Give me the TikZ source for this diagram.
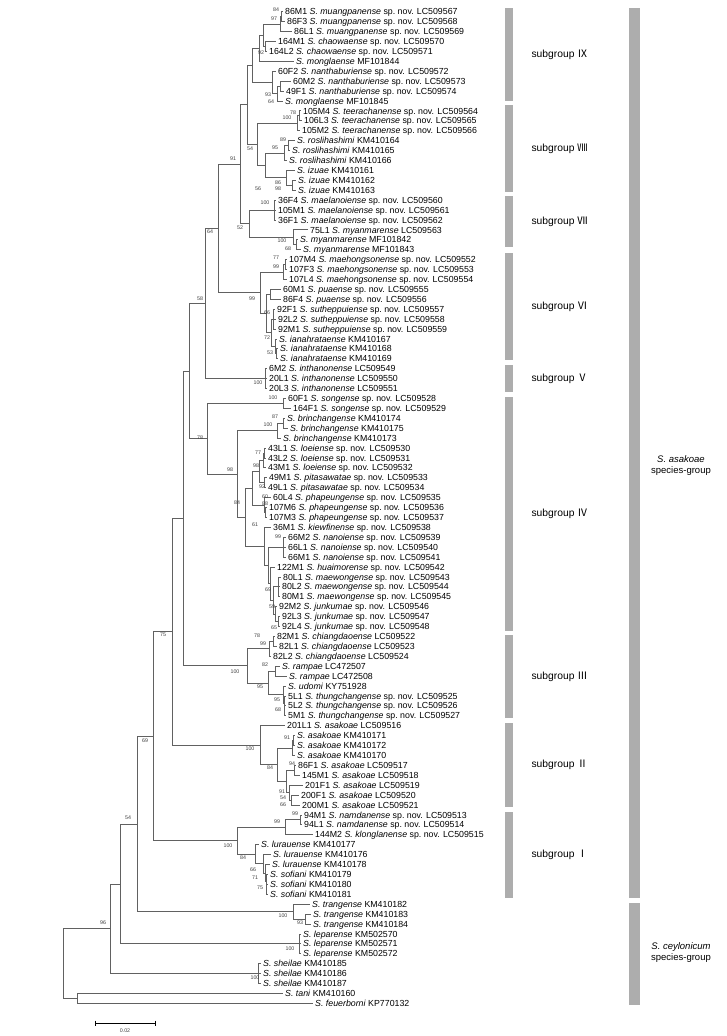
\documentclass[tikz,border=0pt]{standalone}
\usepackage{fontspec}
\setmainfont{Liberation Sans}
\newfontfamily\cjk{Noto Sans CJK JP}
\usetikzlibrary{calc}

\newcommand{\sn}[1]{\textit{S. #1}}
\newcommand{\spnov}{sp.\ nov.}
% a tip: name, x of tip, row, label
\newcommand{\taxon}[4]{\coordinate (#1) at (#2,{11.7+(#3-1)*9.916});
  \node[taxon] (#1-l) at (#1) {#4};}
% an inner node: name, x, first child, last child
\newcommand{\clade}[4]{\path let \p1=($(#3)!.5!(#4)$) in (#2,\y1) coordinate (#1);}

\tikzset{
  branch/.style={draw=black!62, line width=0.75pt},
  taxon/.style={anchor=west, inner sep=0pt, xshift=2.5pt,
    font=\fontsize{8.8}{9}\selectfont, text height=6.3pt, text depth=0pt},
  bs/.style={inner sep=0pt, font=\fontsize{5.3}{6}\selectfont, text=black!75},
  bar/.style={fill=black!32},
  grp/.style={font=\fontsize{9.5}{11}\selectfont},
}

\begin{document}
\begin{tikzpicture}[x=1pt, y=-1pt]
\useasboundingbox (0,0) rectangle (726,1036);

% tips
\taxon{mu1}{282.5}{1}{86M1 \sn{muangpanense} \spnov{} LC509567}
\taxon{mu2}{284.5}{2}{86F3 \sn{muangpanense} \spnov{} LC509568}
\taxon{mu3}{291.5}{3}{86L1 \sn{muangpanense} \spnov{} LC509569}
\taxon{ch1}{275.5}{4}{164M1 \sn{chaowaense} \spnov{} LC509570}
\taxon{ch2}{266.5}{5}{164L2 \sn{chaowaense} \spnov{} LC509571}
\taxon{mg1}{293.5}{6}{\sn{monglaense} MF101844}
\taxon{nt1}{275.5}{7}{60F2 \sn{nanthaburiense} \spnov{} LC509572}
\taxon{nt2}{290.5}{8}{60M2 \sn{nanthaburiense} \spnov{} LC509573}
\taxon{nt3}{283.5}{9}{49F1 \sn{nanthaburiense} \spnov{} LC509574}
\taxon{mg2}{282.5}{10}{\sn{monglaense} MF101845}
\taxon{te1}{300.5}{11}{105M4 \sn{teerachanense} \spnov{} LC509564}
\taxon{te2}{301.5}{12}{106L3 \sn{teerachanense} \spnov{} LC509565}
\taxon{te3}{299.5}{13}{105M2 \sn{teerachanense} \spnov{} LC509566}
\taxon{ro1}{294.5}{14}{\sn{roslihashimi} KM410164}
\taxon{ro2}{289.5}{15}{\sn{roslihashimi} KM410165}
\taxon{ro3}{286.5}{16}{\sn{roslihashimi} KM410166}
\taxon{iz1}{294.5}{17}{\sn{izuae} KM410161}
\taxon{iz2}{295.5}{18}{\sn{izuae} KM410162}
\taxon{iz3}{295.5}{19}{\sn{izuae} KM410163}
\taxon{ml1}{275.5}{20}{36F4 \sn{maelanoiense} \spnov{} LC509560}
\taxon{ml2}{275.5}{21}{105M1 \sn{maelanoiense} \spnov{} LC509561}
\taxon{ml3}{275.5}{22}{36F1 \sn{maelanoiense} \spnov{} LC509562}
\taxon{my1}{307.5}{23}{75L1 \sn{myanmarense} LC509563}
\taxon{my2}{297.5}{24}{\sn{myanmarense} MF101842}
\taxon{my3}{300.5}{25}{\sn{myanmarense} MF101843}
\taxon{mh1}{286.5}{26}{107M4 \sn{maehongsonense} \spnov{} LC509552}
\taxon{mh2}{286.5}{27}{107F3 \sn{maehongsonense} \spnov{} LC509553}
\taxon{mh3}{286.5}{28}{107L4 \sn{maehongsonense} \spnov{} LC509554}
\taxon{pu1}{280.5}{29}{60M1 \sn{puaense} \spnov{} LC509555}
\taxon{pu2}{280.5}{30}{86F4 \sn{puaense} \spnov{} LC509556}
\taxon{su1}{274.5}{31}{92F1 \sn{sutheppuiense} \spnov{} LC509557}
\taxon{su2}{275.5}{32}{92L2 \sn{sutheppuiense} \spnov{} LC509558}
\taxon{su3}{275.5}{33}{92M1 \sn{sutheppuiense} \spnov{} LC509559}
\taxon{ia1}{276.5}{34}{\sn{ianahrataense} KM410167}
\taxon{ia2}{277.5}{35}{\sn{ianahrataense} KM410168}
\taxon{ia3}{277.5}{36}{\sn{ianahrataense} KM410169}
\taxon{in1}{266.5}{37}{6M2 \sn{inthanonense} LC509549}
\taxon{in2}{266.5}{38}{20L1 \sn{inthanonense} LC509550}
\taxon{in3}{266.5}{39}{20L3 \sn{inthanonense} LC509551}
\taxon{sg1}{285.5}{40}{60F1 \sn{songense} \spnov{} LC509528}
\taxon{sg2}{290.5}{41}{164F1 \sn{songense} \spnov{} LC509529}
\taxon{br1}{284.5}{42}{\sn{brinchangense} KM410174}
\taxon{br2}{287.5}{43}{\sn{brinchangense} KM410175}
\taxon{br3}{280.5}{44}{\sn{brinchangense} KM410173}
\taxon{lo1}{265.5}{45}{43L1 \sn{loeiense} \spnov{} LC509530}
\taxon{lo2}{265.5}{46}{43L2 \sn{loeiense} \spnov{} LC509531}
\taxon{lo3}{265.5}{47}{43M1 \sn{loeiense} \spnov{} LC509532}
\taxon{pi1}{266.5}{48}{49M1 \sn{pitasawatae} \spnov{} LC509533}
\taxon{pi2}{265.5}{49}{49L1 \sn{pitasawatae} \spnov{} LC509534}
\taxon{ph1}{270.5}{50}{60L4 \sn{phapeungense} \spnov{} LC509535}
\taxon{ph2}{266.5}{51}{107M6 \sn{phapeungense} \spnov{} LC509536}
\taxon{ph3}{266.5}{52}{107M3 \sn{phapeungense} \spnov{} LC509537}
\taxon{ki1}{270.5}{53}{36M1 \sn{kiewfinense} \spnov{} LC509538}
\taxon{no1}{285.5}{54}{66M2 \sn{nanoiense} \spnov{} LC509539}
\taxon{no2}{285.5}{55}{66L1 \sn{nanoiense} \spnov{} LC509540}
\taxon{no3}{285.5}{56}{66M1 \sn{nanoiense} \spnov{} LC509541}
\taxon{hu1}{274.5}{57}{122M1 \sn{huaimorense} \spnov{} LC509542}
\taxon{mw1}{280.5}{58}{80L1 \sn{maewongense} \spnov{} LC509543}
\taxon{mw2}{279.5}{59}{80L2 \sn{maewongense} \spnov{} LC509544}
\taxon{mw3}{279.5}{60}{80M1 \sn{maewongense} \spnov{} LC509545}
\taxon{ju1}{276.5}{61}{92M2 \sn{junkumae} \spnov{} LC509546}
\taxon{ju2}{279.5}{62}{92L3 \sn{junkumae} \spnov{} LC509547}
\taxon{ju3}{279.5}{63}{92L4 \sn{junkumae} \spnov{} LC509548}
\taxon{cd1}{274.5}{64}{82M1 \sn{chiangdaoense} LC509522}
\taxon{cd2}{276.5}{65}{82L1 \sn{chiangdaoense} LC509523}
\taxon{cd3}{270.5}{66}{82L2 \sn{chiangdaoense} LC509524}
\taxon{ra1}{279.5}{67}{\sn{rampae} LC472507}
\taxon{ra2}{286.5}{68}{\sn{rampae} LC472508}
\taxon{ud1}{285.5}{69}{\sn{udomi} KY751928}
\taxon{tc1}{285.5}{70}{5L1 \sn{thungchangense} \spnov{} LC509525}
\taxon{tc2}{285.5}{71}{5L2 \sn{thungchangense} \spnov{} LC509526}
\taxon{tc3}{285.5}{72}{5M1 \sn{thungchangense} \spnov{} LC509527}
\taxon{as1}{284.5}{73}{201L1 \sn{asakoae} LC509516}
\taxon{as2}{294.5}{74}{\sn{asakoae} KM410171}
\taxon{as3}{294.5}{75}{\sn{asakoae} KM410172}
\taxon{as4}{294.5}{76}{\sn{asakoae} KM410170}
\taxon{as5}{295.5}{77}{86F1 \sn{asakoae} LC509517}
\taxon{as6}{299.5}{78}{145M1 \sn{asakoae} LC509518}
\taxon{as7}{302.5}{79}{201F1 \sn{asakoae} LC509519}
\taxon{as8}{298.5}{80}{200F1 \sn{asakoae} LC509520}
\taxon{as9}{299.5}{81}{200M1 \sn{asakoae} LC509521}
\taxon{nd1}{301.5}{82}{94M1 \sn{namdanense} \spnov{} LC509513}
\taxon{nd2}{301.5}{83}{94L1 \sn{namdanense} \spnov{} LC509514}
\taxon{kl1}{312.5}{84}{144M2 \sn{klonglanense} \spnov{} LC509515}
\taxon{lu1}{258.5}{85}{\sn{lurauense} KM410177}
\taxon{lu2}{270.5}{86}{\sn{lurauense} KM410176}
\taxon{lu3}{269.5}{87}{\sn{lurauense} KM410178}
\taxon{sf1}{267.5}{88}{\sn{sofiani} KM410179}
\taxon{sf2}{267.5}{89}{\sn{sofiani} KM410180}
\taxon{sf3}{267.5}{90}{\sn{sofiani} KM410181}
\taxon{tr1}{309.5}{91}{\sn{trangense} KM410182}
\taxon{tr2}{310.5}{92}{\sn{trangense} KM410183}
\taxon{tr3}{310.5}{93}{\sn{trangense} KM410184}
\taxon{le1}{300.5}{94}{\sn{leparense} KM502570}
\taxon{le2}{300.5}{95}{\sn{leparense} KM502571}
\taxon{le3}{300.5}{96}{\sn{leparense} KM502572}
\taxon{sh1}{260.5}{97}{\sn{sheilae} KM410185}
\taxon{sh2}{260.5}{98}{\sn{sheilae} KM410186}
\taxon{sh3}{260.5}{99}{\sn{sheilae} KM410187}
\taxon{ta1}{282.5}{100}{\sn{tani} KM410160}
\taxon{fe1}{312.5}{101}{\sn{feuerborni} KP770132}

% inner nodes, from the tips down to the root
\clade{nA1}{281}{mu1}{mu2}  \clade{nA2}{280}{nA1}{mu3}
\clade{nA3}{265}{ch1}{ch2}  \clade{nA4}{263}{nA2}{nA3}
\clade{nA5}{259}{nA4}{mg1}
\clade{nB1}{280}{nt2}{nt3}  \clade{nB2}{277}{nB1}{mg2}
\clade{nB3}{272}{nt1}{nB2}  \clade{nIX}{252}{nA5}{nB3}
\clade{nT1}{299}{te1}{te2}  \clade{nT2}{297}{nT1}{te3}
\clade{nR1}{288}{ro1}{ro2}  \clade{nR2}{284}{nR1}{ro3}
\clade{nI1}{292}{iz2}{iz3}  \clade{nI2}{286}{iz1}{nI1}
\clade{nQ}{265}{nR2}{nI2}   \clade{nVIII}{257}{nT2}{nQ}
\clade{nIX8}{247}{nIX}{nVIII}
\clade{nM1}{274.5}{ml1}{ml3}
\clade{nY1}{296}{my2}{my3}  \clade{nY2}{293}{my1}{nY1}
\clade{nVII}{249}{nM1}{nY2} \clade{n91}{240}{nIX8}{nVII}
\clade{nH1}{285}{mh1}{mh2}  \clade{nH2}{283}{nH1}{mh3}
\clade{nP1}{270}{pu1}{pu2}  \clade{nS1}{273}{su1}{su3}
\clade{nL1}{276}{ia2}{ia3}  \clade{nL2}{275}{ia1}{nL1}
\clade{nSI}{271}{nS1}{nL2}  \clade{nP}{266}{nP1}{nSI}
\clade{nVI}{260}{nH2}{nP}   \clade{n64}{218}{n91}{nVI}
\clade{nV}{265}{in1}{in3}   \clade{n58}{205}{n64}{nV}
\clade{nG}{283}{sg1}{sg2}
\clade{nBr1}{283}{br1}{br2} \clade{nBr2}{277}{nBr1}{br3}
\clade{nLo1}{264}{lo1}{lo2} \clade{nLo2}{263}{nLo1}{lo3}
\clade{nPi}{264}{pi1}{pi2}  \clade{nLP}{259}{nLo2}{nPi}
\clade{nPh1}{265}{ph2}{ph3} \clade{nPh2}{264}{ph1}{nPh1}
\clade{nLPP}{252}{nLP}{nPh2}
\clade{nNo}{283}{no1}{no3}  \clade{nMw}{278}{mw1}{mw3}
\clade{nJu1}{278}{ju2}{ju3} \clade{nJu2}{275}{ju1}{nJu1}
\clade{nMJ}{273}{nMw}{nJu2} \clade{nHM}{270}{hu1}{nMJ}
\clade{nNH}{268}{nNo}{nHM}  \clade{nK}{264}{ki1}{nNH}
\clade{nRest}{245}{nLPP}{nK} \clade{n98}{237}{nBr2}{nRest}
\clade{nIV}{207}{nG}{n98}   \clade{n189}{189}{n58}{nIV}
\clade{nC1}{273}{cd1}{cd2}  \clade{nC2}{269}{nC1}{cd3}
\clade{nRa}{275}{ra1}{ra2}
\clade{nTh1}{284.5}{tc2}{tc3} \clade{nTh2}{284}{tc1}{nTh1}
\clade{nTh3}{283.5}{ud1}{nTh2} \clade{nRT}{268}{nRa}{nTh3}
\clade{nIII}{247}{nC2}{nRT} \clade{n183}{183}{n189}{nIII}
\clade{nAs1}{293}{as2}{as3} \clade{nAs2}{292}{nAs1}{as4}
\clade{nAs3}{294}{as5}{as6} \clade{nAs4}{291}{as8}{as9}
\clade{nAs5}{289}{as7}{nAs4} \clade{nAs6}{286}{nAs3}{nAs5}
\clade{nAs7}{277}{nAs2}{nAs6} \clade{nII}{260}{as1}{nAs7}
\clade{n75}{172}{n183}{nII}
\clade{nNd}{300}{nd1}{nd2}  \clade{nNk}{285}{nNd}{kl1}
\clade{nSf1}{266.5}{sf2}{sf3} \clade{nSf2}{266}{sf1}{nSf1}
\clade{nLu1}{265}{lu3}{nSf2} \clade{nLu2}{263}{lu2}{nLu1}
\clade{nLu3}{255}{lu1}{nLu2} \clade{nI}{237}{nNk}{nLu3}
\clade{n69}{153}{n75}{nI}
\clade{nTr1}{305}{tr2}{tr3} \clade{nTr}{293}{tr1}{nTr1}
\clade{n54}{137}{n69}{nTr}
\clade{nLe}{299}{le1}{le3}  \clade{n120}{120}{n54}{nLe}
\clade{nSh}{258}{sh1}{sh3}  \clade{n96}{110}{n120}{nSh}
\clade{nOut}{77}{ta1}{fe1}  \clade{nRoot}{63}{n96}{nOut}

% branches
\foreach \a/\b in {nA1/mu1,nA1/mu2,nA2/nA1,nA2/mu3,nA3/ch1,nA3/ch2,nA4/nA2,nA4/nA3,
  nA5/nA4,nA5/mg1,nB1/nt2,nB1/nt3,nB2/nB1,nB2/mg2,nB3/nt1,nB3/nB2,nIX/nA5,nIX/nB3,
  nT1/te1,nT1/te2,nT2/nT1,nT2/te3,nR1/ro1,nR1/ro2,nR2/nR1,nR2/ro3,nI1/iz2,nI1/iz3,
  nI2/iz1,nI2/nI1,nQ/nR2,nQ/nI2,nVIII/nT2,nVIII/nQ,nIX8/nIX,nIX8/nVIII,
  nM1/ml1,nM1/ml2,nM1/ml3,nY1/my2,nY1/my3,nY2/my1,nY2/nY1,nVII/nM1,nVII/nY2,
  n91/nIX8,n91/nVII,nH1/mh1,nH1/mh2,nH2/nH1,nH2/mh3,nP1/pu1,nP1/pu2,
  nS1/su1,nS1/su2,nS1/su3,nL1/ia2,nL1/ia3,nL2/ia1,nL2/nL1,nSI/nS1,nSI/nL2,
  nP/nP1,nP/nSI,nVI/nH2,nVI/nP,n64/n91,n64/nVI,nV/in1,nV/in2,nV/in3,n58/n64,n58/nV,
  nG/sg1,nG/sg2,nBr1/br1,nBr1/br2,nBr2/nBr1,nBr2/br3,nLo1/lo1,nLo1/lo2,nLo2/nLo1,
  nLo2/lo3,nPi/pi1,nPi/pi2,nLP/nLo2,nLP/nPi,nPh1/ph2,nPh1/ph3,nPh2/ph1,nPh2/nPh1,
  nLPP/nLP,nLPP/nPh2,nNo/no1,nNo/no2,nNo/no3,nMw/mw1,nMw/mw2,nMw/mw3,nJu1/ju2,
  nJu1/ju3,nJu2/ju1,nJu2/nJu1,nMJ/nMw,nMJ/nJu2,nHM/hu1,nHM/nMJ,nNH/nNo,nNH/nHM,
  nK/ki1,nK/nNH,nRest/nLPP,nRest/nK,n98/nBr2,n98/nRest,nIV/nG,nIV/n98,
  n189/n58,n189/nIV,nC1/cd1,nC1/cd2,nC2/nC1,nC2/cd3,nRa/ra1,nRa/ra2,nTh1/tc2,
  nTh1/tc3,nTh2/tc1,nTh2/nTh1,nTh3/ud1,nTh3/nTh2,nRT/nRa,nRT/nTh3,nIII/nC2,
  nIII/nRT,n183/n189,n183/nIII,nAs1/as2,nAs1/as3,nAs2/nAs1,nAs2/as4,nAs3/as5,
  nAs3/as6,nAs4/as8,nAs4/as9,nAs5/as7,nAs5/nAs4,nAs6/nAs3,nAs6/nAs5,nAs7/nAs2,
  nAs7/nAs6,nII/as1,nII/nAs7,n75/n183,n75/nII,nNd/nd1,nNd/nd2,nNk/nNd,nNk/kl1,
  nSf1/sf2,nSf1/sf3,nSf2/sf1,nSf2/nSf1,nLu1/lu3,nLu1/nSf2,nLu2/lu2,nLu2/nLu1,
  nLu3/lu1,nLu3/nLu2,nI/nNk,nI/nLu3,n69/n75,n69/nI,nTr1/tr2,nTr1/tr3,nTr/tr1,
  nTr/nTr1,n54/n69,n54/nTr,nLe/le1,nLe/le2,nLe/le3,n120/n54,n120/nLe,
  nSh/sh1,nSh/sh2,nSh/sh3,n96/n120,n96/nSh,nOut/ta1,nOut/fe1,nRoot/n96,nRoot/nOut}
  \draw[branch] (\a) |- (\b);

% bootstrap values
\foreach \x/\y/\v [count=\i] in {276/10/84,274/19/97,261/52.7/92,268/95/93,271/101.7/64,
  293/113/78,287/118/100,283/140/89,275/148/95,250/149/54,233/159/91,278/183/86,
  278/189/98,258/189/56,265/203/100,240/228/52,210/232/64,282/241/100,288/249/68,
  276/258/77,276/267/99,200/299/58,252/299/99,267/313/66,267/338/72,270/353/53,
  258/383/100,273/398/100,275/417/87,268/425/100,200/438/78,258/453/77,256/466/98,
  230/470/98,262/487/92,265/497/60,265/504/88,237/503/84,255/525/61,278/537/99,
  268/590/69,272/607/59,274/628/65,163/635/75,257/636/78,263/644/99,265/665/82,
  235/672/100,260/687/95,277/700/95,278/710/68,287/738/91,250/749/100,292/764/94,
  270/768/84,282/792/91,283/798/54,283/805/66,295/814/99,277/822/99,128/818/54,
  145/741/69,228/846/100,243/858/84,253/870/66,255/878/71,260/888/75,283/916/100,
  300/923/93,103/923/96,290/949/100,255/978/100}
  \node[bs] (bs\i) at (\x,\y) {\v};

% scale bar
\coordinate (sb1) at (95,1023);
\coordinate (sb2) at (155,1023);
\draw[line width=0.9pt] (sb1) -- (sb2);
\draw[line width=0.9pt] ([yshift=2.5pt]sb1) -- ([yshift=-2.5pt]sb1);
\draw[line width=0.9pt] ([yshift=2.5pt]sb2) -- ([yshift=-2.5pt]sb2);
\node[bs] (sbl) at (125,1031) {0.02};

% subgroup bars
\foreach \t/\b/\n [count=\i] in {8/101/Ⅸ,105/192/Ⅷ,196/247/Ⅶ,253/360/Ⅵ,365/392/Ⅴ,
  397/631/Ⅳ,635/718/Ⅲ,723/807/Ⅱ,812/898/Ⅰ}{
  \fill[bar] (505,\t) rectangle (513,\b);
  \node[grp, anchor=west, font=\fontsize{10.3}{12}\selectfont] (sub\i) at (528,{(\t+\b)/2}) {subgroup {\cjk\n}};
}

% species-group bars
\fill[bar] (629,8) rectangle (640,898);
\fill[bar] (629,903) rectangle (640,1005);
\node[grp, align=center] (asak) at (681,466) {\textit{S. asakoae}\\species-group};
\node[grp, align=center] (ceyl) at (681,953) {\textit{S. ceylonicum}\\species-group};
\end{tikzpicture}
\end{document}
